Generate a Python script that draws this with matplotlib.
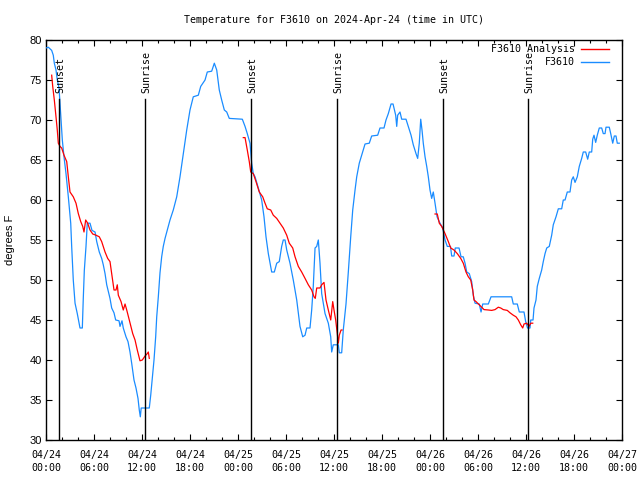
import matplotlib
matplotlib.use('Agg')
import matplotlib.pyplot as plt
import matplotlib.dates as mdates
from datetime import datetime, timedelta

# ---------------- data (hours since 2024-04-24 00:00 UTC, degrees F) -------------
obs_hours = [0.0, 0.29, 0.71, 0.91, 1.04, 1.25, 1.41, 1.63, 1.75, 1.88, 2.04, 2.25, 2.5, 2.79,
             3.09, 3.21, 3.41, 3.63, 3.91, 4.13, 4.25, 4.54, 4.66, 4.79, 5.0, 5.16, 5.5, 5.75,
             6.13, 6.34, 6.66, 6.96, 7.16, 7.38, 7.59, 8.0, 8.21, 8.5, 8.71, 9.13, 9.25, 9.5,
             9.66, 10.0, 10.25, 10.5, 10.71, 11.0, 11.25, 11.5, 11.66, 11.79, 11.9, 12.91,
             13.09, 13.25, 13.5, 13.71, 13.84, 14.04, 14.25, 14.46, 14.66, 14.88, 15.16, 15.5,
             15.91, 16.34, 16.75, 17.16, 17.59, 18.0, 18.41, 19.04, 19.34, 19.88, 20.16, 20.71,
             21.04, 21.34, 21.66, 21.96, 22.29, 22.59, 22.91, 24.54, 24.88, 25.16, 25.5, 25.71,
             25.91, 26.13, 26.54, 26.96, 27.25, 27.5, 27.79, 28.21, 28.54, 28.84, 29.16, 29.46,
             29.66, 29.88, 30.09, 30.5, 30.91, 31.34, 31.75, 32.09, 32.38, 32.59, 33.0, 33.21,
             33.41, 33.63, 33.84, 34.04, 34.25, 34.46, 34.88, 35.29, 35.59, 35.71, 35.91, 36.54,
             36.66, 36.96, 37.16, 37.5, 37.79, 38.09, 38.34, 38.63, 38.84, 39.16, 39.46, 39.88,
             40.41, 40.71, 41.46, 41.75, 42.25, 42.5, 42.79, 43.13, 43.38, 43.71, 43.84, 43.96,
             44.25, 44.46, 45.0, 45.29, 45.63, 45.91, 46.25, 46.46, 46.66, 46.84, 47.0, 47.16,
             47.38, 47.59, 47.79, 48.0, 48.21, 48.41, 48.63, 48.88, 49.25, 49.59, 49.88, 50.16,
             50.56, 50.71, 51.0, 51.16, 51.63, 51.88, 52.16, 52.38, 52.59, 52.91, 53.21, 53.41,
             53.63, 54.16, 54.38, 54.59, 55.29, 55.63, 58.21, 58.41, 58.91, 59.16, 59.75, 59.96,
             60.19, 60.5, 60.59, 60.88, 61.0, 61.25, 61.41, 61.66, 61.96, 62.16, 62.38, 62.59,
             62.91, 63.21, 63.41, 63.75, 64.04, 64.46, 64.66, 64.88, 65.16, 65.5, 65.71, 65.91,
             66.13, 66.41, 66.66, 66.96, 67.16, 67.46, 67.71, 67.91, 68.21, 68.34, 68.5, 68.71,
             68.91, 69.16, 69.46, 69.66, 69.88, 70.0, 70.41, 70.59, 70.84, 71.04, 71.25, 71.41,
             71.66]
obs_temp = [79.0, 79.1, 78.7, 78.1, 77.1, 76.25, 75.0, 74.0, 72.1, 70.0, 67.5, 65.4, 63.3, 60.4,
            57.1, 54.2, 50.0, 47.1, 45.8, 44.6, 44.0, 44.0, 47.7, 51.2, 54.2, 57.1, 57.1, 56.2,
            56.0, 54.8, 53.5, 52.7, 51.9, 50.8, 49.4, 47.7, 46.5, 45.9, 45.0, 44.9, 44.2, 44.9,
            44.0, 42.9, 42.3, 41.0, 39.6, 37.5, 36.5, 35.2, 33.75, 32.9, 34.0, 34.0,
            35.6, 37.3, 40.0, 42.9, 45.4, 47.9, 50.9, 52.9, 54.2, 55.2, 56.25, 57.5,
            58.75, 60.4, 62.9, 65.8, 68.75, 71.25, 72.9, 73.1, 74.2, 75.0, 76.0, 76.1,
            77.1, 76.25, 73.75, 72.5, 71.25, 71.0, 70.2, 70.1, 69.2, 68.3, 67.1, 64.6,
            63.3, 62.9, 61.5, 60.0, 57.9, 55.4, 53.3, 51.0, 51.0, 52.1, 52.3, 54.2,
            55.0, 55.0, 53.75, 52.1, 50.0, 47.5, 44.2, 42.9, 43.1, 44.0, 44.0, 46.25,
            49.2, 54.0, 54.2, 55.0, 52.1, 48.3, 45.8, 44.6, 42.9, 41.0, 41.9, 41.9,
            40.9, 40.9, 43.75, 47.0, 51.0, 55.4, 58.75, 61.25, 62.9, 64.6, 65.6, 67.0,
            67.1, 68.0, 68.1, 69.0, 69.0, 70.0, 70.8, 72.0, 72.0, 70.6, 69.2, 70.6,
            71.0, 70.1, 70.1, 69.2, 68.1, 66.9, 65.8, 65.2, 67.1, 70.1, 68.75, 67.1,
            65.4, 64.2, 62.9, 61.25, 60.2, 61.0, 59.6, 57.9, 57.1, 56.5, 55.0, 54.2,
            54.2, 53.0, 53.0, 54.0, 54.0, 52.9, 52.9, 52.1, 51.0, 50.8, 49.8, 48.1,
            47.1, 47.0, 46.0, 47.0, 47.0, 47.9, 47.9, 47.0, 47.0, 46.0, 46.0, 44.8,
            44.0, 44.0, 45.0, 45.0, 46.5, 47.5, 49.2, 50.2, 51.25, 52.3, 53.3, 54.0,
            54.2, 55.6, 56.9, 57.9, 58.9, 58.9, 60.0, 60.0, 61.0, 61.0, 62.5, 62.9,
            62.2, 62.9, 64.2, 65.2, 66.0, 66.0, 65.1, 66.0, 66.0, 67.6, 68.1, 67.2,
            68.1, 69.0, 69.0, 68.3, 68.3, 69.1, 69.1, 68.3, 67.1, 68.0, 68.0, 67.1,
            67.1]

ana1_hours = [0.71, 0.84, 1.04, 1.25, 1.41, 1.54, 1.75, 1.96, 2.25, 2.59, 2.79, 3.0, 3.41, 3.75,
              4.04, 4.34, 4.59, 4.75, 4.96, 5.21, 5.5, 5.84, 6.25, 6.66, 6.96, 7.38, 7.71, 8.0,
              8.21, 8.5, 8.75, 8.91, 9.04, 9.38, 9.66, 9.88, 10.09, 10.41, 10.84, 11.13, 11.41,
              11.75, 12.04, 12.38, 12.66, 12.79, 12.91]
ana1_temp = [75.6, 74.2, 72.5, 70.4, 68.75, 67.1, 66.7, 66.5, 65.6, 64.8, 62.9, 61.0, 60.4, 59.6,
             58.3, 57.3, 56.7, 56.0, 57.5, 57.1, 56.25, 55.75, 55.6, 55.4, 54.8, 53.5, 52.7, 52.3,
             50.8, 48.75, 48.75, 49.4, 48.1, 47.3, 46.25, 47.0, 46.25, 45.0, 43.3, 42.5, 41.25,
             39.9, 40.0, 40.5, 40.8, 41.0, 40.2]

ana2_hours = [24.66, 24.88, 25.16, 25.41, 25.59, 25.91, 26.25, 26.66, 27.09, 27.38, 27.66, 28.09,
              28.41, 28.84, 29.25, 29.66, 30.09, 30.41, 30.84, 31.13, 31.54, 31.96, 32.38, 32.79,
              33.21, 33.5, 33.66, 33.84, 34.25, 34.46, 34.75, 35.0, 35.29, 35.59, 35.84, 36.0,
              36.21, 36.41, 36.54, 36.66, 36.88, 37.0]
ana2_temp = [67.8, 67.8, 66.25, 64.8, 63.5, 63.3, 62.3, 61.0, 60.4, 59.6, 58.9, 58.75,
             58.1, 57.7, 57.1, 56.5, 55.6, 54.6, 54.0, 52.9, 51.7, 51.0, 50.2, 49.4,
             48.75, 47.9, 47.7, 49.0, 49.0, 49.4, 49.7, 47.5, 46.25, 45.0, 47.3, 46.25,
             45.0, 43.3, 42.1, 43.1, 43.75, 43.75]

ana3_hours = [48.63, 48.91, 49.16, 49.46, 49.88, 50.29, 50.59, 51.0, 51.41, 51.84, 52.16, 52.5,
              52.79, 53.09, 53.34, 53.5, 53.75, 54.16, 54.46, 54.75, 55.29, 55.71, 56.13, 56.54,
              56.84, 57.16, 57.66, 58.0, 58.41, 58.75, 59.04, 59.34, 59.59, 59.75, 60.09, 60.38,
              60.59, 60.84]
ana3_temp = [58.25, 58.25, 57.1, 56.7, 55.8, 54.8, 54.0, 53.75, 53.3, 52.7, 52.1, 51.0,
             50.4, 50.0, 48.75, 47.5, 47.3, 46.9, 46.6, 46.3, 46.25, 46.2, 46.3, 46.6,
             46.5, 46.3, 46.2, 45.9, 45.6, 45.4, 45.0, 44.4, 44.0, 44.5, 44.6, 44.2,
             44.6, 44.6]

sun_hours = [1.62, 12.4, 25.6, 36.4, 49.65, 60.3]
sun_labels = ["Sunset", "Sunrise", "Sunset", "Sunrise", "Sunset", "Sunrise"]

title = "Temperature for F3610 on 2024-Apr-24 (time in UTC)"
ylabel = "degrees F"
legend_labels = ["F3610 Analysis", "F3610"]
colors = ["#ff0000", "#1a8cff"]

# ---------------- plotting ----------------
start = datetime(2024, 4, 24)
def to_dt(hours):
    return [start + timedelta(hours=h) for h in hours]

mono = "DejaVu Sans Mono"
sans = "Liberation Sans"

fig = plt.figure(figsize=(6.4, 4.8), dpi=100)
ax = fig.add_axes([46 / 640, 40 / 480, 576 / 640, 400 / 480])

for hs, ts in [(ana1_hours, ana1_temp), (ana2_hours, ana2_temp), (ana3_hours, ana3_temp)]:
    ax.plot(to_dt(hs), ts, color=colors[0], lw=0.9, zorder=4)
ax.plot(to_dt(obs_hours), obs_temp, color=colors[1], lw=0.9, zorder=3)

for h, lab in zip(sun_hours, sun_labels):
    d = start + timedelta(hours=h)
    ax.plot([d, d], [30, 72.6], color="black", lw=1.0, zorder=5)
    ax.text(d + timedelta(hours=0.18), 73.4, lab, rotation=90, ha="center", va="bottom",
            fontsize=7.2, family=mono, zorder=6)

ax.set_xlim(start, start + timedelta(days=3))
ax.set_ylim(30, 80)
ax.set_yticks(range(30, 81, 5))

ax.xaxis.set_major_locator(mdates.HourLocator(byhour=range(0, 24, 6)))
ax.xaxis.set_minor_locator(mdates.HourLocator(byhour=range(0, 24, 2)))
ax.xaxis.set_major_formatter(mdates.DateFormatter("%m/%d\n%H:%M"))

ax.tick_params(axis="both", which="both", direction="in", top=True, right=True, width=0.8)
ax.tick_params(axis="x", which="major", length=4, pad=7, labelsize=7.2)
ax.tick_params(axis="x", which="minor", length=2.2)
ax.tick_params(axis="y", which="major", length=4, pad=3, labelsize=8)
for lbl in ax.get_yticklabels():
    lbl.set_family(sans)
for s in ax.spines.values():
    s.set_linewidth(1.0)

ax.set_title(title, fontsize=7.2, family=mono, pad=12)
fig.text(10 / 640, 0.5, ylabel, rotation=90, ha="center", va="center", fontsize=8, family=sans)

# legend (gnuplot style: right-aligned text, sample after)
rows_y = [0.9775, 0.944]
for lab, col, yy in zip(legend_labels, colors, rows_y):
    ax.text(0.919, yy, lab, transform=ax.transAxes, ha="right", va="center",
            fontsize=7.2, family=mono, zorder=7)
    ax.plot([0.928, 0.978], [yy, yy], transform=ax.transAxes, color=col, lw=1.0, zorder=7)

fig.canvas.draw()
for lbl in ax.get_xticklabels():
    lbl.set_family(mono)
    lbl.set_linespacing(1.45)

fig.savefig("out.png", dpi=100)
